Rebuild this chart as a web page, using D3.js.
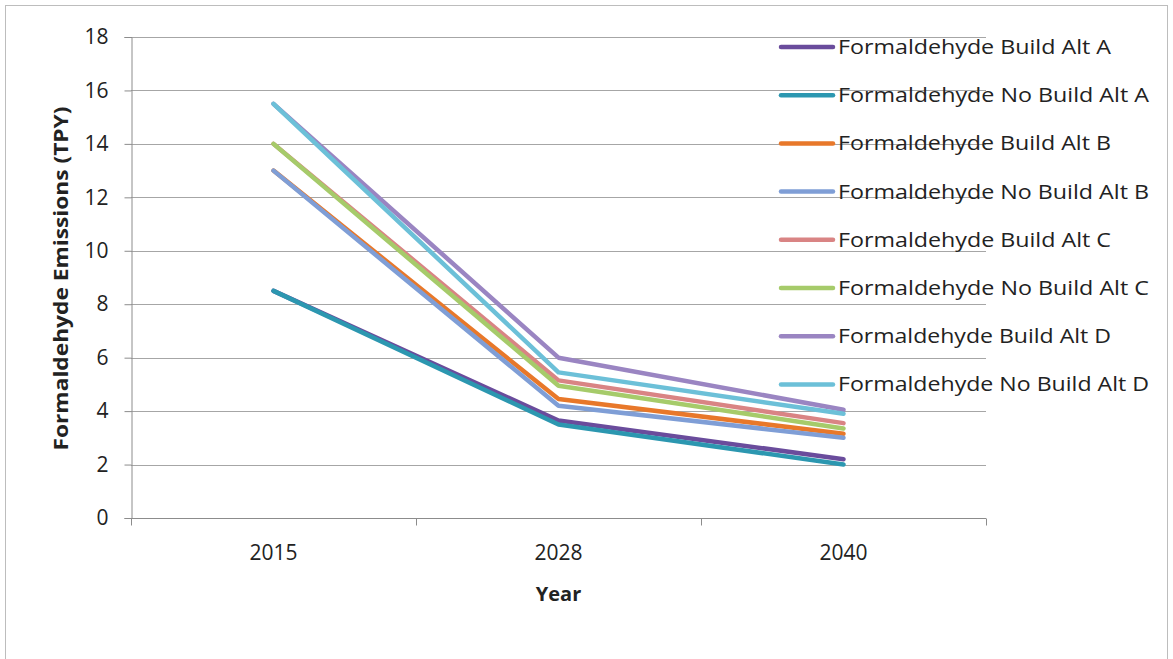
<!DOCTYPE html>
<html>
<head>
<meta charset="utf-8">
<script src="https://cdn.jsdelivr.net/npm/d3@7"></script>
<style>
  html, body { margin: 0; padding: 0; background: #fff; }
  svg { display: block; }
  text { font-family: "Open Sans", Lato, sans-serif; fill: #222; }
</style>
</head>
<body>
<svg id="chart" width="1173" height="659"></svg>
<script>
// Formaldehyde emissions (tons per year) by alternative and forecast year
const years = ["2015", "2028", "2040"];
const seriesNames = [
  "Formaldehyde Build Alt A",
  "Formaldehyde No Build Alt A",
  "Formaldehyde Build Alt B",
  "Formaldehyde No Build Alt B",
  "Formaldehyde Build Alt C",
  "Formaldehyde No Build Alt C",
  "Formaldehyde Build Alt D",
  "Formaldehyde No Build Alt D"
];
const buildAltA   = [8.5, 3.65, 2.2];
const noBuildAltA = [8.5, 3.5, 2.0];
const buildAltB   = [13.0, 4.45, 3.15];
const noBuildAltB = [13.0, 4.2, 3.0];
const buildAltC   = [14.0, 5.15, 3.55];
const noBuildAltC = [14.0, 4.95, 3.35];
const buildAltD   = [15.5, 6.0, 4.05];
const noBuildAltD = [15.5, 5.45, 3.9];
const seriesValues = [buildAltA, noBuildAltA, buildAltB, noBuildAltB,
                      buildAltC, noBuildAltC, buildAltD, noBuildAltD];
const seriesColors = ["#6a4c9c", "#2c97b0", "#e8782a", "#7f9ed6",
                      "#d98484", "#a6cb6a", "#9a85c2", "#6cc0d8"];
const yTicks = [0, 2, 4, 6, 8, 10, 12, 14, 16, 18];

const svg = d3.select("#chart");

// outer chart frame
svg.append("rect")
  .attr("x", 5.5).attr("y", 5.5)
  .attr("width", 1162).attr("height", 660)
  .attr("fill", "#fff").attr("stroke", "#bdbdbd").attr("stroke-width", 1);

const plot = { left: 131, right: 986, top: 37, bottom: 518 };

const x = d3.scaleBand().domain(years).range([plot.left, plot.right]);
const y = d3.scaleLinear().domain([0, 18]).range([plot.bottom, plot.top]);

// horizontal gridlines
svg.append("g")
  .selectAll("line")
  .data(yTicks.filter(d => d > 0))
  .join("line")
  .attr("x1", plot.left).attr("x2", plot.right)
  .attr("y1", d => Math.round(y(d)) + 0.5).attr("y2", d => Math.round(y(d)) + 0.5)
  .attr("stroke", "#a6a6a6").attr("stroke-width", 1.2);

// y axis
const yAxis = svg.append("g")
  .attr("transform", `translate(${plot.left + 0.5},0)`)
  .call(d3.axisLeft(y).tickValues(yTicks).tickSize(7).tickPadding(16));
yAxis.select(".domain").attr("stroke", "#8c8c8c");
yAxis.selectAll(".tick line").attr("stroke", "#8c8c8c");
yAxis.selectAll(".tick text")
  .style("font-family", "'Open Sans', Lato, sans-serif")
  .style("font-size", "21px").attr("fill", "#222");

// x axis with tick marks at category boundaries
const xAxisG = svg.append("g")
  .attr("transform", `translate(0,${Math.round(plot.bottom) + 0.5})`);
xAxisG.append("line")
  .attr("x1", plot.left).attr("x2", plot.right)
  .attr("stroke", "#8c8c8c");
const boundaries = years.map(d => x(d)).concat([x(years[years.length - 1]) + x.bandwidth()]);
xAxisG.selectAll(".bnd")
  .data(boundaries)
  .join("line")
  .attr("class", "bnd")
  .attr("x1", d => Math.round(d) + 0.5).attr("x2", d => Math.round(d) + 0.5)
  .attr("y1", 0).attr("y2", 7)
  .attr("stroke", "#8c8c8c");
xAxisG.selectAll(".lbl")
  .data(years)
  .join("text")
  .attr("class", "lbl")
  .attr("x", d => x(d) + x.bandwidth() / 2)
  .attr("y", 41)
  .attr("text-anchor", "middle")
  .style("font-size", "21px")
  .text(d => d);

// axis titles
svg.append("text")
  .attr("x", x("2028") + x.bandwidth() / 2)
  .attr("y", 601)
  .attr("text-anchor", "middle")
  .style("font-size", "20px").style("font-weight", "bold")
  .text("Year");
svg.append("text")
  .attr("transform", `translate(68,${(plot.top + plot.bottom) / 2 + 1}) rotate(-90)`)
  .attr("text-anchor", "middle")
  .attr("textLength", 344).attr("lengthAdjust", "spacingAndGlyphs")
  .style("font-size", "19px").style("font-weight", "bold")
  .text("Formaldehyde Emissions (TPY)");

// series lines
const line = d3.line()
  .x((d, i) => x(years[i]) + x.bandwidth() / 2)
  .y(d => y(d));
svg.append("g")
  .selectAll("path")
  .data(seriesValues)
  .join("path")
  .attr("d", d => line(d))
  .attr("fill", "none")
  .attr("stroke", (d, i) => seriesColors[i])
  .attr("stroke-width", 4.5)
  .attr("stroke-linejoin", "round")
  .attr("stroke-linecap", "round");

// legend
const legend = svg.append("g").attr("transform", "translate(779,47)");
const items = legend.selectAll("g")
  .data(seriesNames)
  .join("g")
  .attr("transform", (d, i) => `translate(0,${i * 48.2})`);
items.append("line")
  .attr("x1", 2).attr("x2", 54)
  .attr("y1", 0).attr("y2", 0)
  .attr("stroke", (d, i) => seriesColors[i])
  .attr("stroke-width", 4.5)
  .attr("stroke-linecap", "round");
items.append("text")
  .attr("x", 59).attr("y", 7)
  .attr("textLength", d => d.includes("No Build") ? 311 : 273)
  .attr("lengthAdjust", "spacingAndGlyphs")
  .style("font-size", "20px")
  .text(d => d);
</script>
</body>
</html>
